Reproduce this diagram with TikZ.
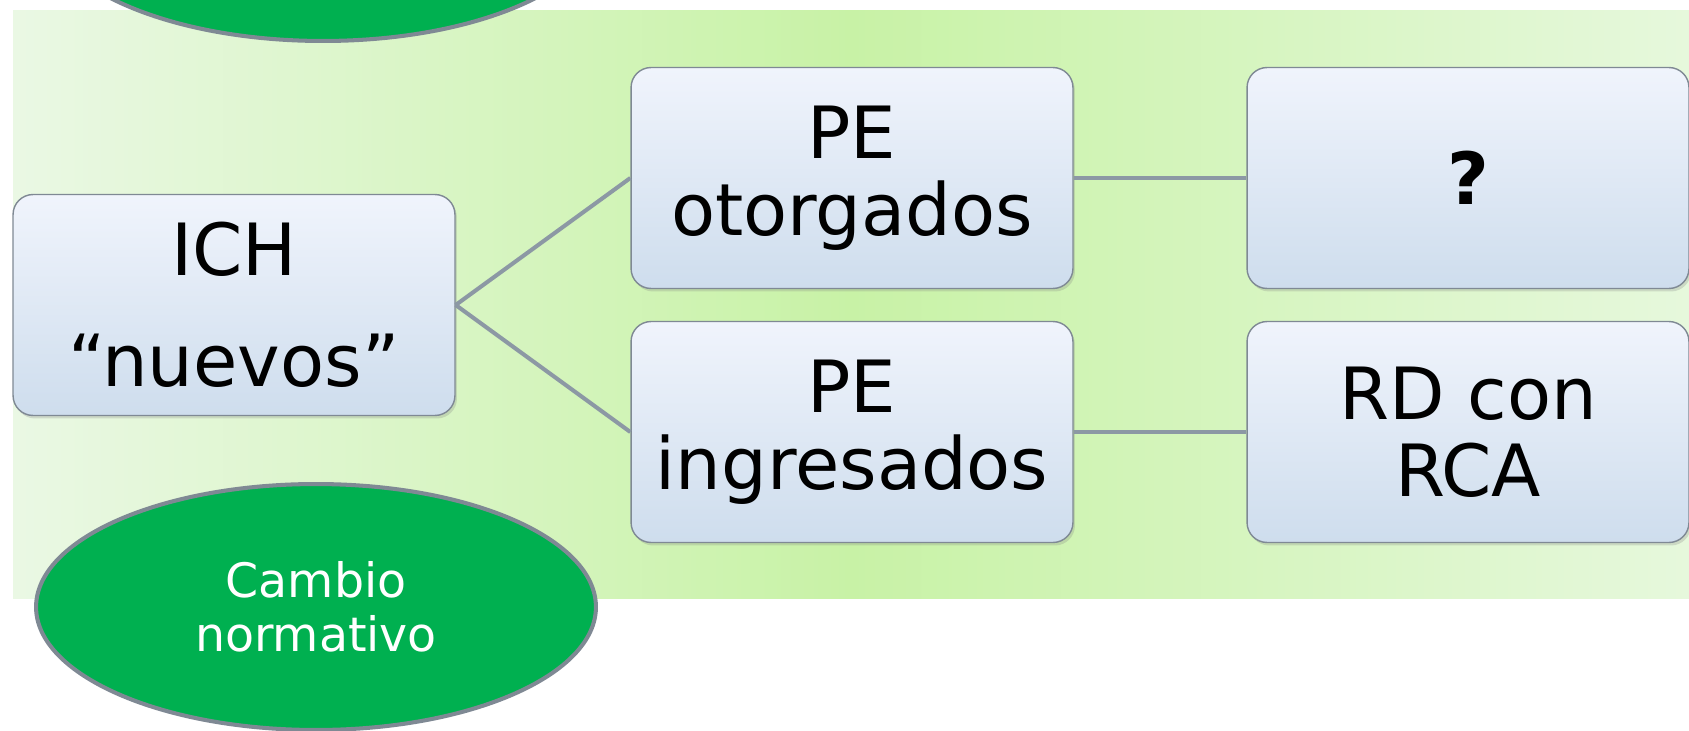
\documentclass[tikz,border=0pt]{standalone}
\usepackage{fontspec}
\setmainfont{DejaVu Sans}
\usetikzlibrary{shapes.geometric,shadows}

\definecolor{fondoizq}{HTML}{EAF8E4}
\definecolor{fondomed}{HTML}{C8F2A6}
\definecolor{fondoder}{HTML}{E6F8DC}
\definecolor{cajaarriba}{HTML}{F0F4FC}
\definecolor{cajaabajo}{HTML}{CEDDED}
\definecolor{borde}{HTML}{7F8994}
\definecolor{linea}{HTML}{8C98A4}
\definecolor{verde}{HTML}{00B050}

\tikzset{
  caja/.style={rectangle, rounded corners=0.4cm, draw=borde, line width=0.8pt,
    top color=cajaarriba, bottom color=cajaabajo,
    minimum width=8.84cm, minimum height=4.42cm, align=center,
    font=\fontsize{41}{44}\selectfont,
    drop shadow={opacity=0.25, shadow xshift=0.04cm, shadow yshift=-0.06cm}},
  ovalo/.style={ellipse, draw=borde, line width=2.3pt, fill=verde, text=white,
    minimum width=11.2cm, minimum height=4.92cm, align=center,
    font=\fontsize{27}{31}\selectfont},
  enlace/.style={draw=linea, line width=2.3pt}
}

\begin{document}
\begin{tikzpicture}[x=0.02cm, y=-0.02cm]

    \useasboundingbox (0,0) rectangle (1689,730);
    \clip (0,0) rectangle (1689,730);

    % Fondo
    \shade[left color=fondoizq, right color=fondoder, middle color=fondomed]
        (13,10) rectangle (1689,598);

    % Ovalos
    \node[ovalo] (arriba) at (323,-82) {};
    \node[ovalo] (cambio) at (316,607) {Cambio\\normativo};

    % Cajas
    \node[caja] (ich) at (234,305) {ICH\\[19pt]“nuevos”};
    \node[caja] (peo) at (852,178) {PE\\otorgados};
    \node[caja] (pei) at (852,432) {PE\\ingresados};
    \node[caja] (preg) at (1468,178) {\bfseries ?};
    \node[caja] (rd) at (1468,432) {RD con\\RCA};

    % Enlaces
    \draw[enlace] (ich.east) -- (peo.west);
    \draw[enlace] (ich.east) -- (pei.west);
    \draw[enlace] (peo.east) -- (preg.west);
    \draw[enlace] (pei.east) -- (rd.west);

\end{tikzpicture}
\end{document}
